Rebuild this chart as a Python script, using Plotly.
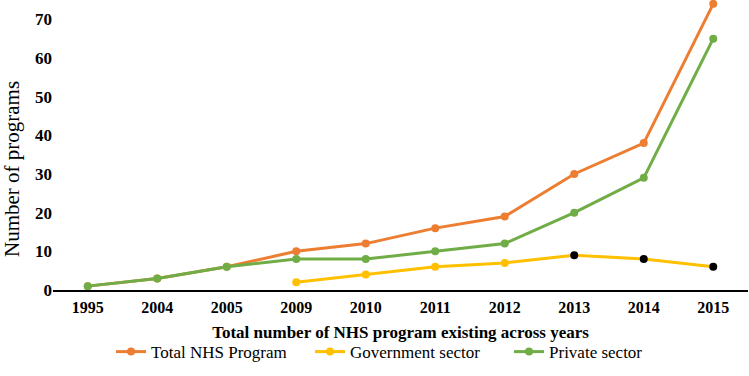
import plotly.graph_objects as go

years = ["1995", "2004", "2005", "2009", "2010", "2011", "2012", "2013", "2014", "2015"]
total = [1, 3, 6, 10, 12, 16, 19, 30, 38, 74]
government = [None, None, None, 2, 4, 6, 7, 9, 8, 6]
private = [1, 3, 6, 8, 8, 10, 12, 20, 29, 65]
gov_marker_colors = ["#FFC000"] * 7 + ["#000000"] * 3

font_family = "Liberation Serif"

fig = go.Figure()
fig.add_trace(go.Scatter(
    x=years, y=total, name="Total NHS Program", mode="lines+markers", cliponaxis=False,
    line=dict(color="#ED7D31", width=3), marker=dict(color="#ED7D31", size=8),
))
fig.add_trace(go.Scatter(
    x=years, y=government, name="Government sector", mode="lines+markers", cliponaxis=False,
    line=dict(color="#FFC000", width=3), marker=dict(color=gov_marker_colors, size=8),
))
fig.add_trace(go.Scatter(
    x=years, y=private, name="Private sector", mode="lines+markers", cliponaxis=False,
    line=dict(color="#70AD47", width=3), marker=dict(color="#70AD47", size=8),
))

fig.update_layout(
    width=749, height=376,
    margin=dict(l=53, r=1, t=0, b=86),
    paper_bgcolor="white", plot_bgcolor="white",
    font=dict(family=font_family, color="black", size=16),
    showlegend=True,
    legend=dict(orientation="h", x=0.513, xanchor="center", y=-0.214, yanchor="middle",
                font=dict(size=17, family=font_family, color="black"),
                traceorder="normal", entrywidth=154, entrywidthmode="pixels"),
    xaxis=dict(
        type="category", range=[-0.5, 9.5], showgrid=False, showline=True,
        linecolor="black", linewidth=1.5, ticks="", automargin=False, ticklabelstandoff=2,
        tickfont=dict(size=16, family=font_family, weight="bold", color="black"),
        title=dict(text="<b>Total number of NHS program existing across years</b>",
                   font=dict(size=17, family=font_family, color="black"), standoff=11),
    ),
    yaxis=dict(
        range=[0, 75], tickvals=[0, 10, 20, 30, 40, 50, 60, 70], showgrid=False,
        zeroline=False, showline=False, ticks="", automargin=False,
        tickfont=dict(size=17, family=font_family, weight="bold", color="black"),
    ),
    annotations=[dict(
        text="Number of programs", textangle=-90, xref="paper", yref="paper",
        x=-53 / 695 + 12 / 695, y=(290 - 169) / 290, xanchor="center", yanchor="middle",
        showarrow=False, font=dict(size=21, family=font_family, color="black"),
    )],
)

fig.write_html("out.html", config={"displayModeBar": False},
               post_script="document.body.style.margin='0';")
